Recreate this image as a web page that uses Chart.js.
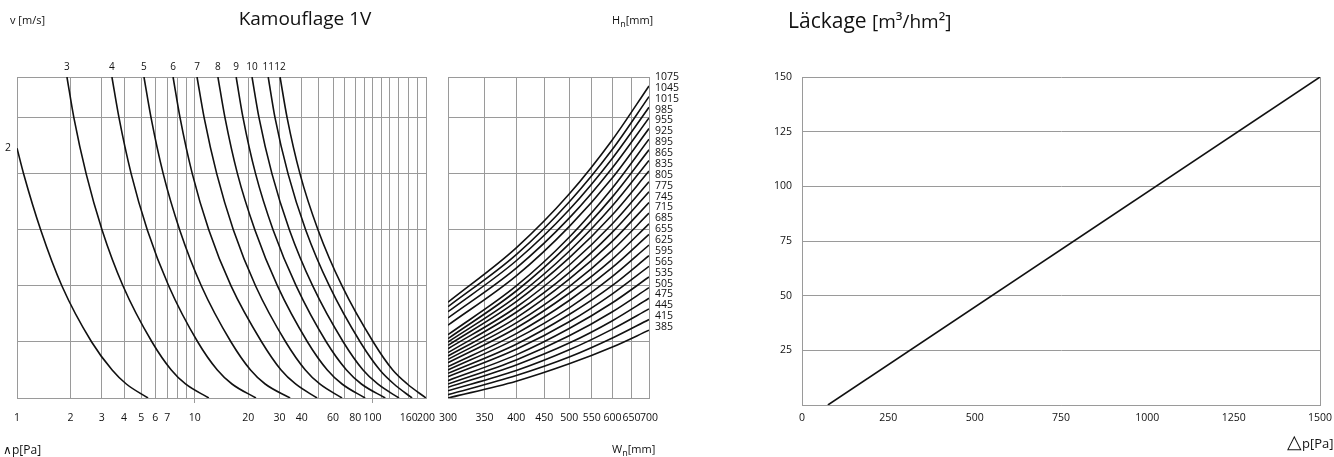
<!DOCTYPE html>
<html>
<head>
<meta charset="utf-8">
<script src="https://cdn.jsdelivr.net/npm/chart.js@4"></script>
<style>
  body { margin: 0; background: #fff; font-family: "Open Sans", sans-serif; color: #111; }
  #page { position: relative; width: 1334px; height: 457px; overflow: hidden; }
  .box { position: absolute; top: 0; height: 457px; }
  .lbl { position: absolute; white-space: nowrap; font-size: 11px; line-height: 1; }
  .sub { font-size: 9px; position: relative; top: 3px; }
</style>
</head>
<body>
<div id="page">
  <div class="box" style="left:0;width:440px"><canvas id="pressureChart"></canvas></div>
  <div class="box" style="left:437px;width:253px"><canvas id="sizeChart"></canvas></div>
  <div class="box" style="left:700px;width:634px"><canvas id="leakChart"></canvas></div>

  <div class="lbl" style="left:10px;top:14px">v [m/s]</div>
  <div class="lbl" style="left:205px;width:200px;text-align:center;top:9px;font-size:19px">Kamouflage 1V</div>
  <div class="lbl" style="left:612px;top:14px">H<span class="sub">n</span>[mm]</div>
  <div class="lbl" style="left:3px;top:444px;font-size:12px">∧p[Pa]</div>
  <div class="lbl" style="left:612px;top:443px">W<span class="sub">n</span>[mm]</div>
  <div class="lbl" style="left:788px;top:10px;font-size:21px">Läckage <span style="font-size:19px">[m³/hm²]</span></div>
  <div class="lbl" style="left:1287px;top:432px;font-size:13px"><span style="font-size:19px">△</span>p[Pa]</div>
</div>

<script>
// ---- left nomogram: pressure drop (log) vs velocity rows ----
const rowTop = 5.73;
const rowGrid = [0, 1, 2, 3, 4, 5, rowTop];

const dpRows = [5.73, 5, 4, 3, 2, 1, 0.5, 0.25, 0];
const dpCurveLabels = ["3", "4", "5", "6", "7", "8", "9", "10", "11", "12"];
const dpCurves = [
  [1.91, 2.09, 2.45, 3.01, 3.95, 5.75, 7.38, 8.87, 12.0],
  [3.42, 3.75, 4.39, 5.41, 7.14, 10.4, 13.4, 16.2, 22.1],
  [5.18, 5.68, 6.65, 8.23, 10.9, 16.0, 20.6, 24.9, 34.4],
  [7.55, 8.27, 9.69, 12.0, 16.0, 23.8, 30.6, 36.9, 48.8],
  [10.3, 11.3, 13.3, 16.5, 22.0, 32.5, 41.9, 50.5, 67.4],
  [13.5, 14.8, 17.4, 21.8, 29.2, 43.1, 55.7, 67.4, 90.9],
  [17.1, 18.7, 22.0, 27.6, 37.2, 55.0, 71.4, 86.6, 118],
  [21.0, 23.0, 27.2, 34.1, 46.1, 68.5, 88.5, 107, 141],
  [25.9, 28.3, 33.5, 42.1, 57.2, 85.3, 110, 132, 167],
  [30.2, 33.1, 39.1, 49.4, 67.4, 101, 130, 157, 200]
];
const curve2Label = "2";
const curve2Rows = [4.46, 4, 3, 2, 1, 0.5, 0.25, 0];
const curve2Dp = [1, 1.09, 1.36, 1.79, 2.63, 3.43, 4.12, 5.46];

const dpGrid = [1, 2, 3, 4, 5, 6, 7, 8, 9, 10, 20, 30, 40, 50, 60, 70, 80, 90, 100, 112, 125, 140, 160, 180, 200];
const dpTickLabels = [1, 2, 3, 4, 5, 6, 7, 10, 20, 30, 40, 60, 80, 100, 160, 200];

// ---- middle nomogram: width (log) vs rows, one curve per height ----
const wTicks = [300, 350, 400, 450, 500, 550, 600, 650, 700];
const wPts = [300, 400, 500, 600, 700];
const hLabels = [385, 415, 445, 475, 505, 535, 565, 595, 625, 655, 685, 715,
                 745, 775, 805, 835, 865, 895, 925, 955, 985, 1015, 1045, 1075];
const hRows = [
  [0.00, 0.30, 0.61, 0.91, 1.21],
  [0.06, 0.40, 0.73, 1.07, 1.40],
  [0.13, 0.49, 0.86, 1.23, 1.59],
  [0.19, 0.59, 0.98, 1.38, 1.78],
  [0.25, 0.68, 1.11, 1.54, 1.97],
  [0.31, 0.77, 1.24, 1.70, 2.16],
  [0.38, 0.87, 1.36, 1.86, 2.35],
  [0.44, 0.96, 1.49, 2.01, 2.54],
  [0.50, 1.06, 1.61, 2.17, 2.73],
  [0.56, 1.15, 1.74, 2.33, 2.92],
  [0.63, 1.25, 1.87, 2.48, 3.11],
  [0.69, 1.34, 1.99, 2.64, 3.30],
  [0.75, 1.43, 2.12, 2.80, 3.49],
  [0.81, 1.53, 2.24, 2.96, 3.68],
  [0.88, 1.62, 2.37, 3.11, 3.86],
  [0.94, 1.72, 2.50, 3.27, 4.05],
  [1.00, 1.81, 2.62, 3.43, 4.24],
  [1.06, 1.91, 2.75, 3.59, 4.43],
  [1.13, 2.00, 2.87, 3.75, 4.62],
  [1.30, 2.18, 3.06, 3.93, 4.81],
  [1.43, 2.32, 3.21, 4.11, 5.00],
  [1.54, 2.45, 3.36, 4.28, 5.19],
  [1.63, 2.56, 3.50, 4.44, 5.38],
  [1.71, 2.68, 3.64, 4.61, 5.57]
];

// ---- right chart: leakage ----
const leakDp = [75, 1500];
const leakVal = [0, 150];

const gridColor = "#9a9a9a";
const inkColor = "#111";
const tickFont = { family: "Open Sans", size: 10.5 };
const clear = "rgba(0,0,0,0)";

const curveStyle = {
  borderColor: inkColor,
  borderWidth: 1.6,
  pointRadius: 0,
  fill: false,
  cubicInterpolationMode: "monotone"
};

const commonOptions = {
  responsive: true,
  maintainAspectRatio: false,
  animation: false,
  events: [],
  plugins: { legend: { display: false }, tooltip: { enabled: false } }
};

// keep the plot edges where the layout padding puts them
function fixHeight(h) {
  return s => { s.height = h; s.paddingLeft = 0; s.paddingRight = 0; };
}
function fixWidth(w) {
  return s => { s.width = w; s.paddingTop = 0; s.paddingBottom = 0; };
}

// left chart
const pressureSets = [{ ...curveStyle, data: curve2Dp.map((x, i) => ({ x: x, y: curve2Rows[i] })) }]
  .concat(dpCurves.map(c => ({ ...curveStyle, data: c.map((x, i) => ({ x: x, y: dpRows[i] })) })));

new Chart(document.getElementById("pressureChart"), {
  type: "line",
  data: { datasets: pressureSets },
  options: {
    ...commonOptions,
    layout: { padding: { left: 0, right: 14, top: 0, bottom: 0 } },
    scales: {
      x: {
        type: "logarithmic", position: "bottom", min: 1, max: 200,
        afterBuildTicks: s => { s.ticks = dpGrid.map(v => ({ value: v })); },
        afterFit: fixHeight(59),
        ticks: {
          autoSkip: false, maxRotation: 0, padding: 9, color: inkColor, font: tickFont,
          callback: v => dpTickLabels.includes(v) ? String(v) : ""
        },
        grid: {
          color: gridColor, tickLength: 5,
          tickColor: c => (c.tick && (c.tick.value === 10 || c.tick.value === 100)) ? gridColor : clear
        },
        border: { color: gridColor }
      },
      xTop: {
        type: "logarithmic", position: "top", min: 1, max: 200,
        afterBuildTicks: s => { s.ticks = dpCurves.map(c => ({ value: c[0] })); },
        afterFit: fixHeight(77),
        ticks: {
          autoSkip: false, maxRotation: 0, padding: 4, color: inkColor,
          font: { family: "Open Sans", size: 10 },
          callback: (v, i) => dpCurveLabels[i]
        },
        grid: { display: false, drawTicks: false },
        border: { display: false }
      },
      y: {
        type: "linear", min: 0, max: rowTop,
        afterBuildTicks: s => {
          s.ticks = rowGrid.concat([curve2Rows[0]]).sort((a, b) => a - b).map(v => ({ value: v }));
        },
        afterFit: fixWidth(17),
        ticks: {
          autoSkip: false, padding: 6, color: inkColor, font: tickFont,
          callback: v => v === curve2Rows[0] ? curve2Label : ""
        },
        grid: {
          drawTicks: false,
          color: c => (c.tick && c.tick.value === curve2Rows[0]) ? clear : gridColor
        },
        border: { color: gridColor }
      }
    }
  }
});

// middle chart
const sizeSets = hRows.map(r => ({ ...curveStyle, data: r.map((y, i) => ({ x: wPts[i], y: y })) }));

new Chart(document.getElementById("sizeChart"), {
  type: "line",
  data: { datasets: sizeSets },
  options: {
    ...commonOptions,
    layout: { padding: { left: 0, right: 0, top: 77, bottom: 0 } },
    scales: {
      x: {
        type: "logarithmic", position: "bottom", min: 300, max: 700,
        afterBuildTicks: s => { s.ticks = wTicks.map(v => ({ value: v })); },
        afterFit: fixHeight(59),
        ticks: {
          autoSkip: false, maxRotation: 0, padding: 9, color: inkColor, font: tickFont,
          callback: v => String(v)
        },
        grid: { color: gridColor, tickLength: 5, tickColor: clear },
        border: { color: gridColor }
      },
      y: {
        type: "linear", min: 0, max: rowTop,
        afterBuildTicks: s => { s.ticks = rowGrid.map(v => ({ value: v })); },
        afterFit: fixWidth(11),
        ticks: { display: false },
        grid: { color: gridColor, drawTicks: false },
        border: { color: gridColor }
      },
      yH: {
        type: "linear", position: "right", min: -6.53, max: hLabels.length - 1,
        afterBuildTicks: s => { s.ticks = hLabels.map((h, i) => ({ value: i })); },
        afterFit: fixWidth(41),
        ticks: {
          autoSkip: false, padding: 6, color: inkColor, font: tickFont,
          callback: v => String(hLabels[v])
        },
        grid: { display: false, drawTicks: false },
        border: { display: false }
      }
    }
  }
});

// right chart
new Chart(document.getElementById("leakChart"), {
  type: "line",
  data: {
    datasets: [{
      ...curveStyle,
      cubicInterpolationMode: "default",
      tension: 0,
      data: leakDp.map((x, i) => ({ x: x, y: leakVal[i] }))
    }]
  },
  options: {
    ...commonOptions,
    layout: { padding: { left: 0, right: 14, top: 77, bottom: 0 } },
    scales: {
      x: {
        type: "linear", min: 0, max: 1500,
        afterFit: fixHeight(52),
        ticks: {
          stepSize: 250, maxRotation: 0, padding: 7, color: inkColor, font: tickFont,
          callback: v => String(v)
        },
        grid: {
          drawTicks: false,
          color: c => (c.tick && c.tick.value === 1500) ? gridColor : clear
        },
        border: { color: gridColor }
      },
      y: {
        type: "linear", min: 0, max: 150,
        afterFit: fixWidth(102),
        ticks: {
          stepSize: 25, padding: 10, color: inkColor, font: tickFont,
          callback: v => v === 0 ? "" : String(v)
        },
        grid: { color: gridColor, drawTicks: false },
        border: { color: gridColor }
      }
    }
  }
});
</script>
</body>
</html>
